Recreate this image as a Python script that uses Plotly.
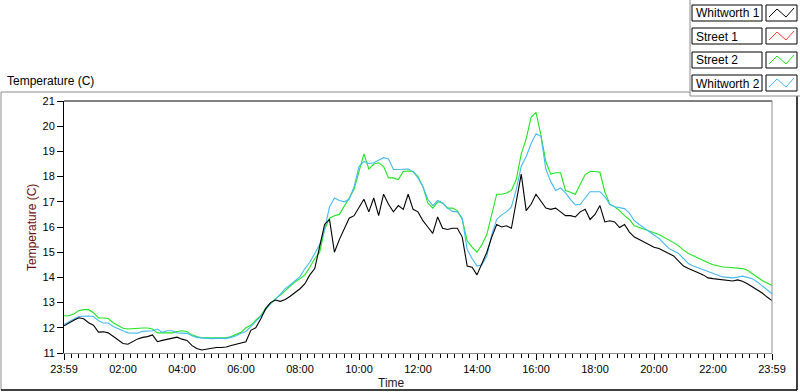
import plotly.graph_objects as go

# ---------------- data ----------------
sample_minutes = 10          # one reading every 10 minutes, starting 23:59
tick_hours = [0, 2, 4, 6, 8, 10, 12, 14, 16, 18, 20, 22, 24]
tick_labels = ["23:59", "02:00", "04:00", "06:00", "08:00", "10:00", "12:00",
               "14:00", "16:00", "18:00", "20:00", "22:00", "23:59"]

whitworth1 = [
    12.08, 12.2, 12.3, 12.4, 12.36, 12.2, 12.1, 11.83, 11.84, 11.8, 11.65, 11.5,
    11.38, 11.35, 11.45, 11.56, 11.62, 11.65, 11.72, 11.45, 11.5, 11.54, 11.6, 11.63,
    11.55, 11.5, 11.3, 11.18, 11.12, 11.15, 11.2, 11.22, 11.22, 11.24, 11.3, 11.35, 11.4,
    11.45, 11.9, 12.0, 12.35, 12.75, 13.0, 13.1, 13.05, 13.12, 13.25, 13.4, 13.55,
    13.75, 14.1, 14.35, 15.2, 16.1, 16.3, 15.0, 15.5, 15.95, 16.35, 16.45, 16.8,
    17.1, 16.6, 17.15, 16.45, 17.3, 16.9, 16.6, 16.85, 16.7, 17.3, 16.7, 16.6,
    16.25, 16.0, 15.75, 16.4, 15.95, 15.9, 15.95, 15.95, 15.6, 14.45, 14.4, 14.1,
    14.55, 15.0, 15.6, 16.1, 16.0, 16.05, 15.95, 17.0, 18.1, 16.65, 16.9, 17.3,
    17.0, 16.75, 16.7, 16.75, 16.6, 16.45, 16.45, 16.4, 16.6, 16.7, 16.3, 16.5,
    16.85, 16.2, 16.25, 16.2, 15.98, 16.1, 15.8, 15.6, 15.5, 15.4, 15.28, 15.2,
    15.15, 15.05, 14.95, 14.85, 14.65, 14.45, 14.35, 14.25, 14.18, 14.1, 13.98, 13.95,
    13.93, 13.9, 13.88, 13.86, 13.9, 13.85, 13.75, 13.62, 13.52, 13.38, 13.22, 13.08,
]

street2 = [
    12.48, 12.48, 12.55, 12.68, 12.72, 12.72, 12.6, 12.39, 12.39, 12.37, 12.2, 12.1,
    11.98, 11.95, 11.97, 11.99, 11.99, 11.99, 11.95, 11.8, 11.8, 11.8, 11.8, 11.85,
    11.88, 11.85, 11.72, 11.65, 11.6, 11.6, 11.6, 11.6, 11.6, 11.6, 11.65, 11.72, 11.82,
    12.0, 12.1, 12.3, 12.48, 12.78, 12.98, 13.15, 13.3, 13.48, 13.68, 13.82, 13.95,
    14.1, 14.4, 14.75, 15.0, 15.9, 16.35, 16.45, 16.5, 16.8, 17.15, 17.5, 18.25,
    18.9, 18.3, 18.5, 18.55, 18.4, 17.95, 17.95, 17.88, 18.2, 18.22, 18.2, 18.0,
    17.6, 16.95, 16.75, 17.0, 16.95, 16.75, 16.75, 16.65, 16.3, 15.45, 15.2, 15.0,
    15.3, 15.7, 16.5, 17.3, 17.3, 17.35, 17.45, 17.9, 18.9, 19.5, 20.35, 20.55,
    19.65, 18.6, 18.1, 18.15, 18.15, 17.45, 17.38, 17.3, 17.7, 18.08, 18.2, 18.2,
    18.17, 17.4, 16.9, 16.8, 16.65, 16.45, 16.3, 16.05, 15.98, 15.9, 15.82, 15.77,
    15.7, 15.6, 15.5, 15.38, 15.25, 15.08, 14.95, 14.85, 14.78, 14.68, 14.58, 14.5,
    14.45, 14.41, 14.4, 14.38, 14.38, 14.35, 14.28, 14.15, 14.0, 13.88, 13.78, 13.68,
]

whitworth2 = [
    12.13, 12.25, 12.35, 12.45, 12.47, 12.47, 12.45, 12.28, 12.19, 12.19, 12.05, 11.95,
    11.88, 11.8, 11.79, 11.79, 11.86, 11.88, 11.88, 11.95, 11.82, 11.88, 11.88, 11.8,
    11.8, 11.78, 11.68, 11.62, 11.6, 11.58, 11.57, 11.58, 11.58, 11.58, 11.62, 11.68, 11.78,
    11.85, 12.05, 12.25, 12.45, 12.72, 12.95, 13.12, 13.35, 13.55, 13.7, 13.85, 14.03,
    14.35, 14.6, 14.95, 15.3, 15.9, 16.8, 17.15, 17.05, 17.0, 17.1, 17.6, 18.4,
    18.6, 18.52, 18.55, 18.65, 18.75, 18.7, 18.28, 18.28, 18.28, 18.3, 18.2, 17.95,
    17.6, 17.1, 16.85, 17.05, 16.95, 16.75, 16.62, 16.6, 16.35, 15.1, 14.75, 14.45,
    14.5, 14.85, 15.7, 16.3, 16.48, 16.6, 16.8, 17.5, 18.41, 18.8, 19.3, 19.7,
    19.6, 18.3, 17.8, 17.45, 17.55, 17.35, 17.1, 16.88, 16.9, 17.15, 17.4, 17.4,
    17.4, 17.2, 16.9, 16.8, 16.75, 16.73, 16.55, 16.25, 16.1, 15.95, 15.8, 15.68,
    15.55, 15.35, 15.15, 15.05, 14.95, 14.75, 14.55, 14.45, 14.38, 14.32, 14.25, 14.15,
    14.08, 14.02, 14.0, 13.98, 14.01, 14.05, 14.0, 13.95, 13.82, 13.65, 13.5, 13.35,
]

street1 = []  # listed in the legend, no visible trace

legend_names = ["Whitworth 1", "Street 1", "Street 2", "Whitworth 2"]
legend_colors = ["#000000", "#ff3c3c", "#1ee61e", "#46b9f5"]

hours = [i * sample_minutes / 60 for i in range(len(whitworth1))]

# ---------------- figure ----------------
W, H = 800, 392
L, R, T, B = 64, 28, 101, 39
PW, PH = W - L - R, H - T - B


def px(x):
    return (x - L) / PW


def py(y):
    return 1 - (y - T) / PH


fig = go.Figure()
for name, ys, col in [("Street 2", street2, legend_colors[2]),
                      ("Street 1", street1, legend_colors[1]),
                      ("Whitworth 2", whitworth2, legend_colors[3]),
                      ("Whitworth 1", whitworth1, legend_colors[0])]:
    fig.add_trace(go.Scatter(x=hours[:len(ys)], y=ys, mode="lines", name=name,
                             line=dict(color=col, width=1.1), showlegend=False))

font = "Liberation Sans"
shapes = []
line_gray = "#8c8c8c"


def seg(x0, y0, x1, y1, color, w=1):
    shapes.append(dict(type="line", xref="paper", yref="paper",
                       x0=px(x0), y0=py(y0), x1=px(x1), y1=py(y1),
                       line=dict(color=color, width=w), layer="above"))


# plot frame
seg(64, 101, 772, 101, "#000000")
seg(772, 101, 772, 353, line_gray)
# outer frame
seg(1, 92, 690, 92, line_gray)
seg(1, 92, 1, 390, line_gray)
seg(1, 390, 797, 390, "#000000", 1.5)
seg(797, 96, 797, 390, "#000000", 1.5)
seg(690, 0, 690, 96, line_gray)
seg(690, 96, 800, 96, line_gray)

annotations = []
# legend
row_tops = [5, 28, 52, 75]
row_h = 16
for name, col, top in zip(legend_names, legend_colors, row_tops):
    shapes.append(dict(type="rect", xref="paper", yref="paper",
                       x0=px(692), x1=px(762), y0=py(top), y1=py(top + row_h),
                       line=dict(color="#000000", width=1), fillcolor="white"))
    shapes.append(dict(type="rect", xref="paper", yref="paper",
                       x0=px(766), x1=px(797), y0=py(top), y1=py(top + row_h),
                       line=dict(color="#000000", width=1), fillcolor="white"))
    zig = [(769, top + 12), (777, top + 4), (786, top + 12), (794, top + 3)]
    path = "M " + " L ".join(f"{px(a)},{py(b)}" for a, b in zig)
    shapes.append(dict(type="path", xref="paper", yref="paper", path=path,
                       line=dict(color=col, width=1)))
    annotations.append(dict(text=name, xref="paper", yref="paper",
                            x=px(694), y=py(top + row_h / 2 + 0.5),
                            xanchor="left", yanchor="middle", showarrow=False,
                            font=dict(family=font, size=12, color="#000000")))

annotations += [
    dict(text="Temperature (C)", xref="paper", yref="paper", x=px(5), y=py(81),
         xanchor="left", yanchor="middle", showarrow=False,
         font=dict(family=font, size=12, color="#000000")),
    dict(text="Temperature (C)", xref="paper", yref="paper", x=px(32), y=py(228),
         xanchor="center", yanchor="middle", showarrow=False, textangle=-90,
         font=dict(family=font, size=12, color="#6a1010")),
    dict(text="Time", xref="paper", yref="paper", x=px(391), y=py(383),
         xanchor="center", yanchor="middle", showarrow=False,
         font=dict(family=font, size=12, color="#1a1a1a")),
]

fig.update_layout(
    width=W, height=H, autosize=False,
    margin=dict(l=L, r=R, t=T, b=B, pad=0),
    paper_bgcolor="white", plot_bgcolor="white",
    showlegend=False, shapes=shapes, annotations=annotations,
    xaxis=dict(range=[0, 24], tickmode="array", tickvals=tick_hours,
               ticktext=tick_labels, ticks="outside", ticklen=6, tickwidth=1,
               tickcolor="#000000", showgrid=False, zeroline=False,
               showline=True, linecolor=line_gray, linewidth=1,
               tickfont=dict(family=font, size=11, color="#000000"),
               minor=dict(dtick=0.25, tick0=0, ticks="outside", ticklen=4,
                          tickcolor="#000000", showgrid=False)),
    yaxis=dict(range=[11, 21], dtick=1, ticks="outside", ticklen=6, tickwidth=1,
               tickcolor="#000000", showgrid=False, zeroline=False,
               showline=True, linecolor="#000000", linewidth=1,
               tickfont=dict(family=font, size=11, color="#000000")),
)

fig.write_html("out.html",
               config={"displayModeBar": False},
               post_script="document.body.style.margin='0';"
                           "document.body.style.overflow='hidden';")
